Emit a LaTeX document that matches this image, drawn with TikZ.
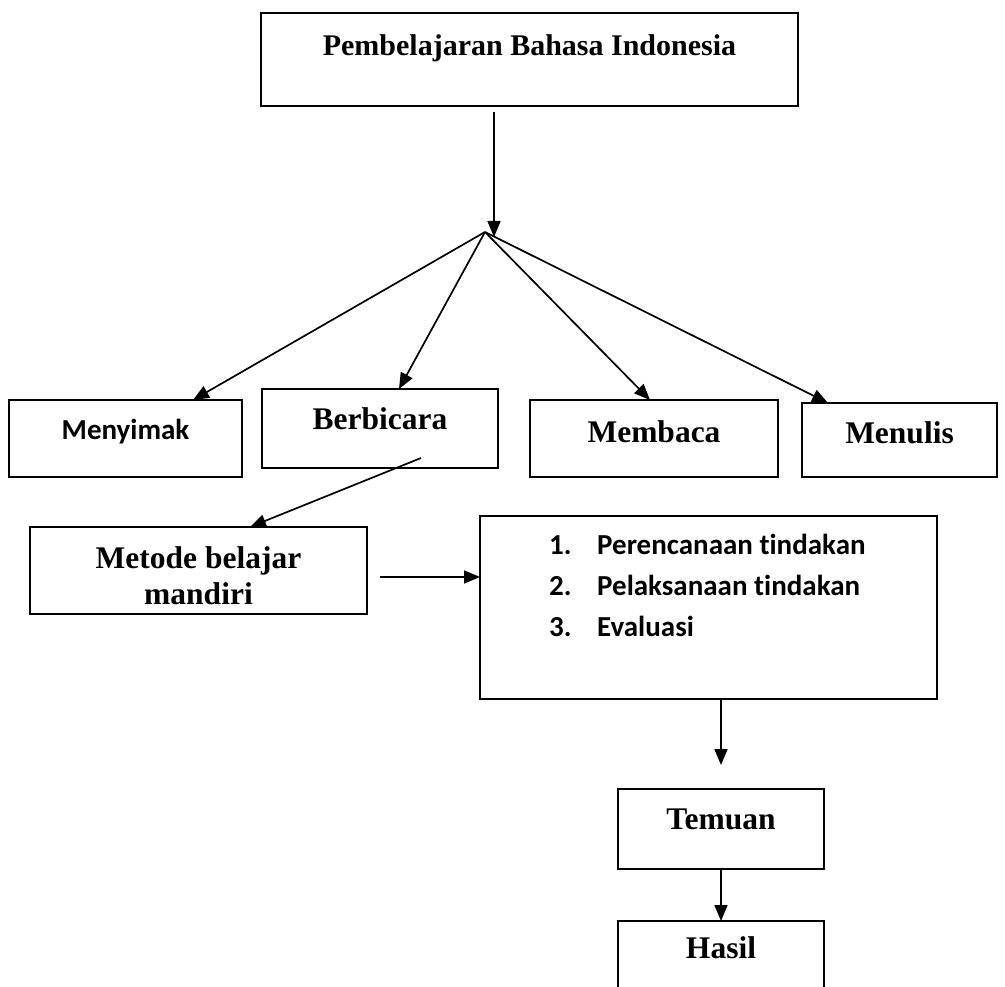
\documentclass[tikz,border=0pt]{standalone}
\usepackage{fontspec}
\setmainfont{Liberation Serif}
\newfontfamily\carlitofont[Ligatures=NoCommon]{Carlito}
\usepackage{tikz}
\usetikzlibrary{arrows.meta,positioning}

\begin{document}
\begin{tikzpicture}[x=1pt, y=-1pt, >={Triangle[length=16pt,width=13pt]}]
\tikzstyle{box}=[draw, line width=1.7pt, inner sep=0pt, outer sep=0pt, anchor=north west]
\tikzstyle{serif}=[font=\fontsize{31.5}{36}\selectfont\bfseries]
\tikzstyle{sans}=[font=\carlitofont\fontsize{29}{41}\selectfont\bfseries]
\tikzstyle{arr}=[->, line width=1.7pt]

\useasboundingbox (0,0) rectangle (1005,987);
\clip (0,0) rectangle (1005,987);

\node[box, font=\fontsize{30}{35}\selectfont\bfseries, minimum width=537pt,
      text height=43pt, text depth=50pt] (title) at (261,13) {Pembelajaran Bahasa Indonesia};

\node[box, sans, minimum width=233pt, text height=39pt, text depth=38pt] (menyimak) at (9,400) {Menyimak};
\node[box, serif, minimum width=236pt, text height=40pt, text depth=39pt] (berbicara) at (262,389) {Berbicara};
\node[box, serif, minimum width=248pt, text height=42pt, text depth=35pt] (membaca) at (530,400) {Membaca};
\node[box, serif, minimum width=195pt, text height=40pt, text depth=34pt] (menulis) at (802,403) {Menulis};

\node[box, serif, minimum width=337pt, text height=41pt, text depth=46pt] (metode) at (30,527)
  {\begin{tabular}[t]{@{}c@{}}Metode belajar\\mandiri\end{tabular}};
\node[box, minimum width=457pt, minimum height=183pt] (steps) at (480,516) {};
\foreach \i/\txt in {1/Perencanaan tindakan, 2/Pelaksanaan tindakan, 3/Evaluasi}
  \node[sans, anchor=base west, inner sep=0pt] (item\i) at (549,513+41*\i) {\makebox[48pt][l]{\i.}\txt};

\node[box, serif, minimum width=206pt, text height=40pt, text depth=40pt] (temuan) at (618,789) {Temuan};
\node[box, serif, minimum width=206pt, text height=37pt, text depth=50pt] (hasil) at (618,921) {Hasil};

\coordinate (hub) at (494,237);
\coordinate (fan) at (485,232);
\draw[arr] ([yshift=-6pt]title.south -| hub) -- (hub);

\draw[arr] (fan) -- ([xshift=67.5pt]menyimak.north);
\draw[arr] (fan) -- ([xshift=19pt]berbicara.north);
\draw[arr] (fan) -- ([xshift=-4pt]membaca.north);
\draw[arr] (fan) -- ([xshift=-71.5pt]menulis.north);

\draw[arr] ([xshift=41pt,yshift=-29.5pt]berbicara.center) -- ([xshift=51.5pt]metode.north);

\coordinate (m2s) at (380,577);
\draw[arr] (m2s) -- (m2s -| steps.west);
\draw[arr] (steps.south -| temuan.north) -- ([yshift=24pt]temuan.north);
\draw[arr] (temuan) -- (hasil);

\end{tikzpicture}
\end{document}
